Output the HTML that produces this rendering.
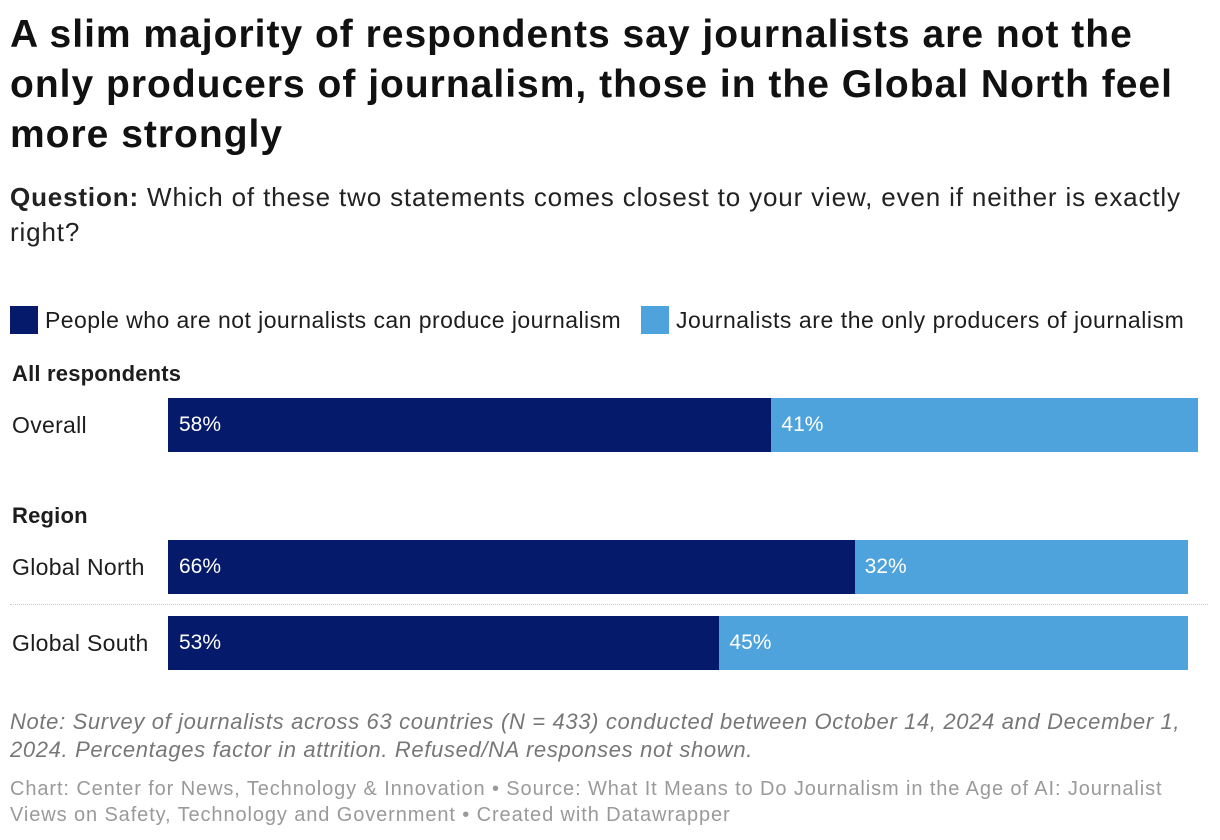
<!DOCTYPE html>
<html><head><meta charset="utf-8"><style>
body{margin:0;width:1220px;height:840px;background:#fff;font-family:"Liberation Sans",sans-serif;color:#1d1d1d;position:relative;overflow:hidden}
.a{position:absolute;white-space:nowrap}
</style></head><body>
<div class="a" style="left:10px;top:10px;font-size:39px;font-weight:bold;line-height:50px;color:#111;letter-spacing:1.0px">A slim majority of respondents say journalists are not the<br>only producers of journalism, those in the Global North feel<br>more strongly</div>
<div class="a" style="left:10px;top:180px;font-size:26px;line-height:35px;color:#222;letter-spacing:0.85px"><b>Question:</b> Which of these two statements comes closest to your view, even if neither is exactly<br>right?</div>
<div class="a" style="left:10px;top:306px;font-size:23px;line-height:28px;letter-spacing:0.45px"><span style="display:inline-block;width:28px;height:28px;background:#051a6a;vertical-align:top;margin-right:7px"></span>People who are not journalists can produce journalism</div>
<div class="a" style="left:641px;top:306px;font-size:23px;line-height:28px;letter-spacing:0.55px"><span style="display:inline-block;width:28px;height:28px;background:#4fa3dc;vertical-align:top;margin-right:7px"></span>Journalists are the only producers of journalism</div>
<div id="chart"></div>
<div class="a" style="left:10px;top:708px;font-size:22px;line-height:28px;font-style:italic;color:#777;letter-spacing:0.65px">Note: Survey of journalists across 63 countries (N = 433) conducted between October 14, 2024 and December 1,<br>2024. Percentages factor in attrition. Refused/NA responses not shown.</div>
<div class="a" style="left:10px;top:776px;font-size:20px;line-height:26px;color:#9a9a9a;letter-spacing:0.9px">Chart: Center for News, Technology &amp; Innovation • Source: What It Means to Do Journalism in the Age of AI: Journalist<br>Views on Safety, Technology and Government • Created with Datawrapper</div>
<script>
const categories=["Overall","Global North","Global South"];
const notJournalists=[58,66,53];
const onlyJournalists=[41,32,45];
const groups=["All respondents","Region"];
const rowTops=[398,540,616];
const x0=168,scale=1030/99;
const c=document.getElementById('chart');
function xs(v){return v*scale;}
function add(style,text){const d=document.createElement('div');d.className='a';d.style.cssText=style;if(text!=null)d.textContent=text;c.appendChild(d);return d;}
let g=add('left:12px;top:361px;font-size:22px;font-weight:bold;line-height:26px;letter-spacing:0.2px',groups[0]);


g=add('left:12px;top:503px;font-size:22px;font-weight:bold;line-height:26px;letter-spacing:0.2px',groups[1]);


let sep=add('left:10px;top:604px;width:1198px;height:0;border-top:1.5px dotted #c8c8c8');


categories.forEach((cat,i)=>{
 const y=rowTops[i];
 const l=add('left:12px;top:'+(y+14)+'px;font-size:23px;line-height:27px;letter-spacing:0.3px',cat);
 
 
 const w1=xs(notJournalists[i]),w2=xs(onlyJournalists[i]);
 const b1=add('left:'+x0+'px;top:'+y+'px;width:'+w1+'px;height:54px;background:#051a6a;color:#fff;font-size:21px;line-height:54px;text-indent:11px',notJournalists[i]+'%');
 
 
 const b2=add('left:'+(x0+w1)+'px;top:'+y+'px;width:'+w2+'px;height:54px;background:#4fa3dc;color:#fff;font-size:21px;line-height:54px;text-indent:10px',onlyJournalists[i]+'%');
 
 
});
</script>
</body></html>
